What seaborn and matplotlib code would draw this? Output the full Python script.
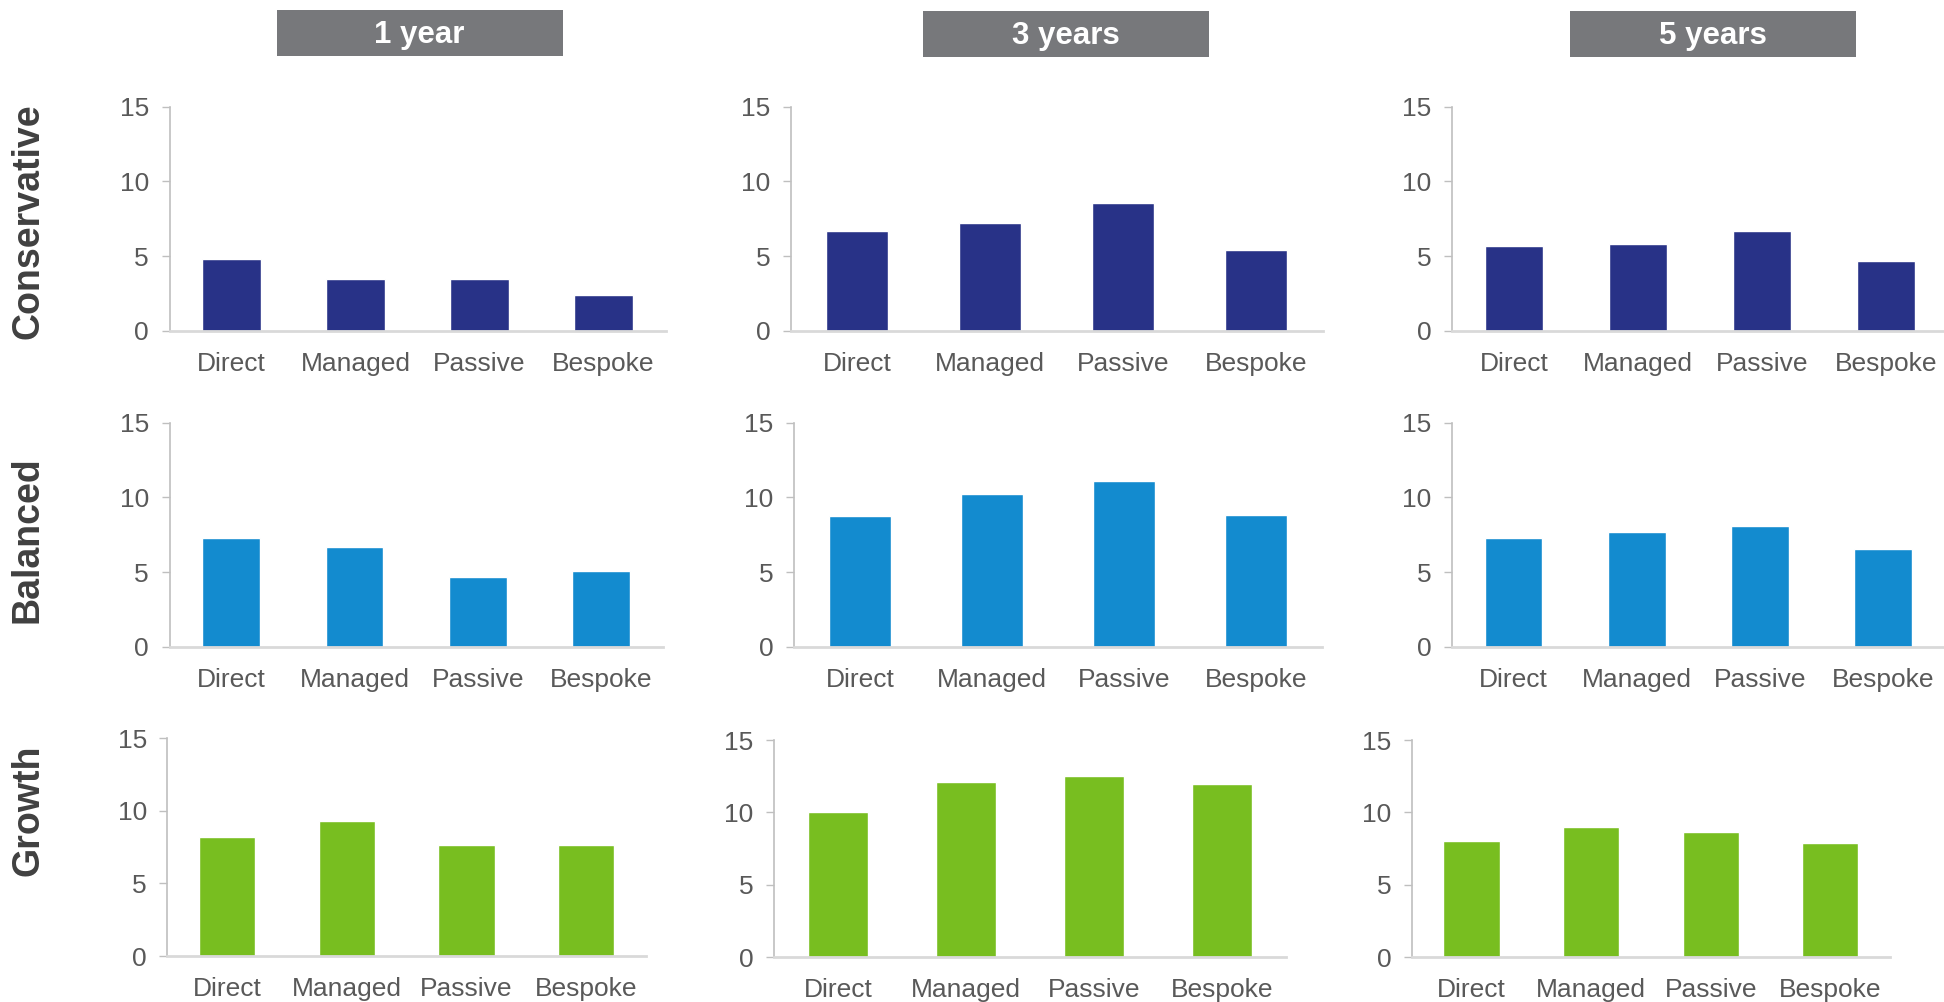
import matplotlib
matplotlib.use("Agg")
import matplotlib.pyplot as plt
from matplotlib.patches import Rectangle
import seaborn as sns
import pandas as pd

# ---- data ----
categories = ["Direct", "Managed", "Passive", "Bespoke"]
horizons = ["1 year", "3 years", "5 years"]
profiles = ["Conservative", "Balanced", "Growth"]

conservative_1y = [4.8, 3.5, 3.5, 2.4]
conservative_3y = [6.7, 7.2, 8.55, 5.45]
conservative_5y = [5.7, 5.8, 6.7, 4.7]
balanced_1y = [7.3, 6.65, 4.65, 5.1]
balanced_3y = [8.75, 10.2, 11.1, 8.85]
balanced_5y = [7.3, 7.65, 8.1, 6.55]
growth_1y = [8.2, 9.3, 7.65, 7.65]
growth_3y = [10.0, 12.1, 12.5, 11.95]
growth_5y = [8.0, 9.0, 8.65, 7.9]

y_ticks = [0, 5, 10, 15]

values = [
    [conservative_1y, conservative_3y, conservative_5y],
    [balanced_1y, balanced_3y, balanced_5y],
    [growth_1y, growth_3y, growth_5y],
]

# ---- style ----
sns.set_style("white")
plt.rcParams["font.family"] = ["Liberation Sans", "DejaVu Sans"]

W, H = 1944, 1002
fig = plt.figure(figsize=(W / 100, H / 100), dpi=100)

row_colors = ["#283287", "#138BCF", "#78BE20"]
tick_color = "#595959"

# panel boxes in pixels: (left, right, top, bottom)
panel_px = [
    [(169.6, 665.6, 106.7, 331.0), (790.7, 1322.5, 106.7, 331.0), (1452.0, 1948.0, 106.7, 331.0)],
    [(169.6, 662.6, 422.7, 646.7), (793.8, 1322.2, 422.7, 646.7), (1452.0, 1944.5, 422.7, 646.7)],
    [(167.4, 646.0, 738.3, 956.0), (773.8, 1286.0, 740.0, 957.3), (1411.7, 1890.0, 740.0, 957.3)],
]

for r in range(3):
    for c in range(3):
        l, rr, t, b = panel_px[r][c]
        ax = fig.add_axes([l / W, 1 - b / H, (rr - l) / W, (b - t) / H])
        df = pd.DataFrame({"category": categories, "value": values[r][c]})
        sns.barplot(data=df, x="category", y="value", color=row_colors[r],
                    saturation=1, width=0.47, ax=ax)
        ax.set_xlim(-0.5, 3.5)
        ax.set_ylim(0, 15)
        ax.set_yticks(y_ticks)
        ax.set_xlabel("")
        ax.set_ylabel("")
        for s in ["top", "right"]:
            ax.spines[s].set_visible(False)
        ax.spines["left"].set_color("#BFBFBF")
        ax.spines["left"].set_linewidth(1.2)
        ax.spines["bottom"].set_color("#D9D9D9")
        ax.spines["bottom"].set_linewidth(2.0)
        ax.tick_params(axis="y", which="both", left=True, length=5.8, width=1.0,
                       color="#BFBFBF", pad=9, labelsize=19, labelcolor=tick_color)
        ax.tick_params(axis="x", which="both", bottom=False, length=0, pad=15,
                       labelsize=19, labelcolor=tick_color)

# ---- column headers ----
header_px = [(276.8, 562.5, 10.0, 55.5), (922.7, 1209.0, 11.0, 56.7), (1569.8, 1856.0, 11.0, 56.7)]
for (l, rr, t, b), txt in zip(header_px, horizons):
    fig.add_artist(Rectangle((l / W, 1 - b / H), (rr - l) / W, (b - t) / H,
                             transform=fig.transFigure, facecolor="#77787B",
                             edgecolor="none"))
    fig.text((l + rr) / 2 / W, 1 - (t + b) / 2 / H - 0.002, txt, ha="center", va="center",
             color="white", fontsize=22.5, fontweight="bold")

# ---- row labels ----
row_centers = [221, 540, 810]
for yc, txt in zip(row_centers, profiles):
    fig.text(28 / W, 1 - yc / H, txt, rotation=90, ha="center", va="center",
             color="#404040", fontsize=27, fontweight="bold")

fig.savefig("out.png", dpi=100)
